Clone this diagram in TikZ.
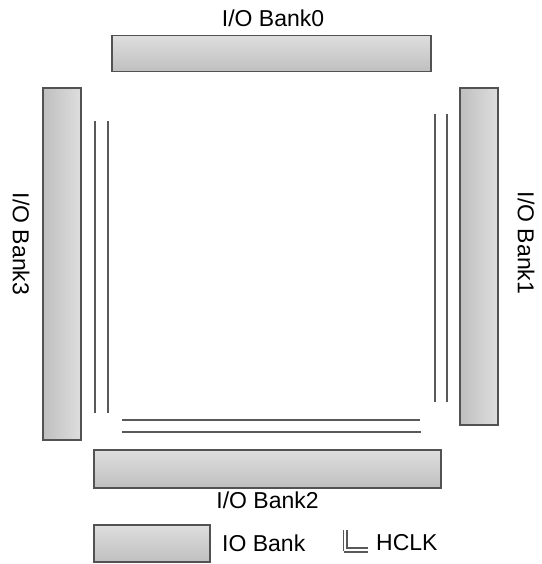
\documentclass[tikz,border=0pt]{standalone}
\usepackage{fontspec}
\setmainfont{Liberation Sans}
\begin{document}
\begin{tikzpicture}[x=1pt,y=-1pt,
  bank/.style={draw=black!68,line width=1.6pt,inner sep=0pt},
  hbank/.style={bank,top color=black!13,bottom color=black!25},
  vbank/.style={bank,left color=black!25,right color=black!13},
  lbl/.style={font=\fontsize{23}{26}\selectfont,inner sep=0pt},
  hclk/.style={draw=black!65,line width=1.4pt}]
\useasboundingbox (0,0) rectangle (541,564);
% banks
\node[hbank,minimum width=319pt,minimum height=36pt] (b0) at (271.5,53.5) {};
\node[vbank,minimum width=38pt,minimum height=352pt] (b3) at (62,264) {};
\node[vbank,minimum width=38pt,minimum height=337pt] (b1) at (479,256.5) {};
\node[hbank,minimum width=347pt,minimum height=38pt] (b2) at (267.5,469) {};
\node[hbank,minimum width=116pt,minimum height=37pt] (leg) at (152,543.5) {};
% labels
\node[lbl] (t0) at (273,18) {I/O Bank0};
\node[lbl] (t2) at (267.5,500) {I/O Bank2};
\node[lbl,rotate=-90] (t3) at (21,244) {I/O Bank3};
\node[lbl,rotate=-90] (t1) at (526,243) {I/O Bank1};
\node[lbl,anchor=west] (tl) at (222,543) {IO Bank};
\node[lbl,anchor=west] (th) at (376,543) {HCLK};
% HCLK lines
\draw[hclk] (95,121) -- (95,413);
\draw[hclk] (108,121) -- (108,413);
\draw[hclk] (435,114) -- (435,402);
\draw[hclk] (447,114) -- (447,402);
\draw[hclk] (122,420) -- (420,420);
\draw[hclk] (122,432) -- (421,432);
% legend symbol
\draw[hclk,line width=1.1pt] (343.5,530) -- (343.5,551) (347,530) -- (347,548) -- (368,548);
\draw[hclk,line width=1.1pt] (343.5,552) -- (368,552);
\end{tikzpicture}
\end{document}
